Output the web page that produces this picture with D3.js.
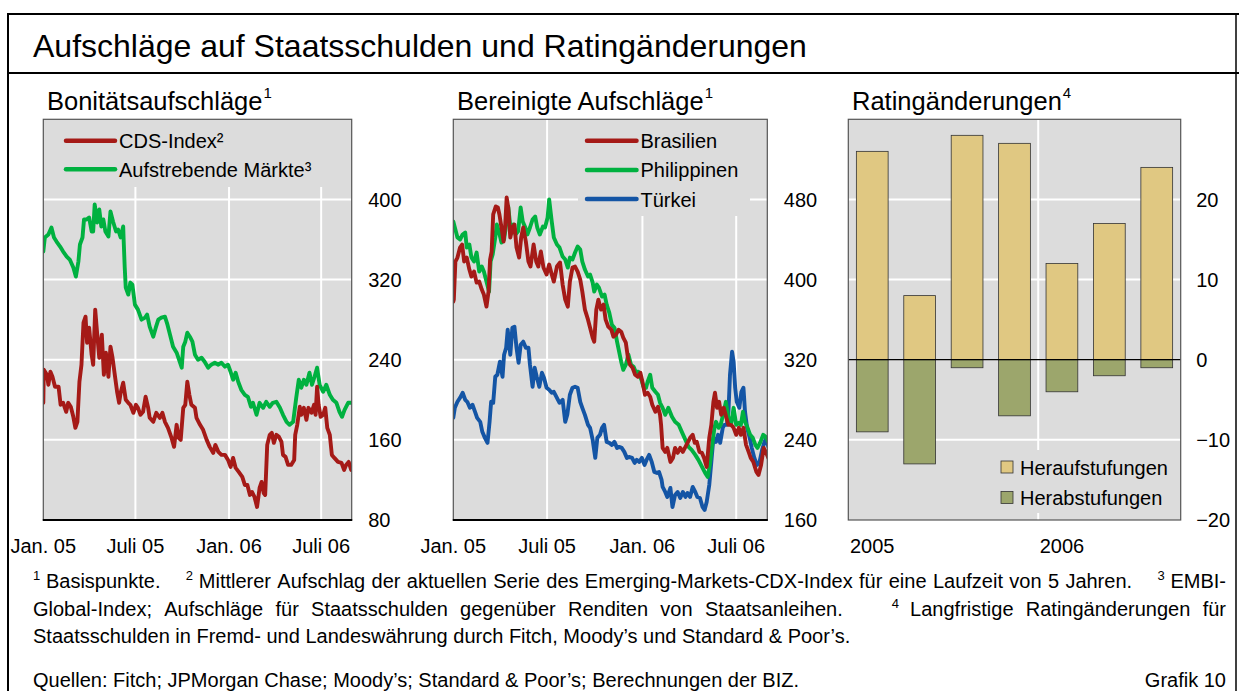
<!DOCTYPE html>
<html><head><meta charset="utf-8">
<script src="https://cdn.jsdelivr.net/npm/d3@7"></script>
<style>
body{margin:0;background:#fff;}
svg{display:block;font-family:"Liberation Sans",Arial,Helvetica,sans-serif;}
</style></head><body>
<svg id="c" width="1239" height="691"></svg>
<script>
// ---------- DATA (x = days since 1 Jan 2005, y = basis points) ----------
const cdsIndex = [[0,197],[1,230],[7,225],[10,215],[14,228],[18,223],[23,213],[30,213],[34,195],[39,197],[45,188],[49,197],[54,193],[59,183],[63,172],[67,178],[71,218],[75,235],[79,277],[83,283],[86,257],[90,272],[95,245],[98,235],[102,290],[106,265],[110,242],[115,265],[119,225],[123,247],[128,223],[132,253],[136,242],[141,223],[145,208],[149,197],[152,207],[157,217],[162,200],[167,197],[171,195],[177,187],[182,195],[186,192],[191,185],[196,188],[201,203],[206,192],[209,182],[216,178],[222,187],[229,182],[234,187],[239,178],[245,172],[252,162],[257,153],[262,175],[266,162],[270,160],[275,192],[279,195],[283,218],[287,205],[291,195],[298,192],[301,182],[308,175],[314,170],[321,160],[327,153],[334,147],[338,155],[344,148],[350,145],[357,145],[363,140],[368,133],[373,142],[378,132],[384,128],[391,123],[396,115],[401,115],[406,105],[410,108],[415,103],[420,93],[425,112],[429,118],[433,107],[436,105],[440,155],[445,165],[449,167],[453,157],[458,165],[463,163],[468,158],[471,145],[476,143],[481,135],[487,135],[493,140],[495,165],[499,175],[504,193],[507,185],[512,192],[517,180],[521,192],[527,187],[532,195],[535,185],[538,213],[541,195],[545,183],[550,185],[554,192],[558,172],[563,165],[567,145],[572,142],[579,138],[586,137],[591,130],[595,135],[600,138],[605,130]];
const emergingMarkets = [[0,348],[3,362],[10,365],[16,372],[21,362],[26,358],[33,353],[39,348],[46,343],[52,340],[59,332],[64,323],[69,338],[72,355],[77,362],[80,380],[85,380],[90,382],[95,368],[98,368],[101,395],[106,377],[110,390],[114,373],[118,380],[122,368],[128,363],[132,388],[137,378],[143,368],[147,370],[152,362],[157,373],[158,358],[160,332],[162,312],[167,305],[171,317],[175,315],[180,295],[186,290],[193,280],[200,282],[204,285],[209,273],[216,263],[221,272],[226,280],[232,282],[239,283],[244,275],[249,265],[255,253],[262,247],[268,238],[272,232],[275,253],[279,258],[283,267],[288,263],[293,258],[298,245],[304,240],[311,242],[317,238],[324,232],[330,235],[337,237],[344,235],[350,237],[357,233],[363,235],[368,228],[373,220],[378,227],[383,218],[389,210],[396,205],[402,203],[408,193],[412,197],[419,185],[425,197],[432,192],[438,198],[445,193],[451,197],[458,198],[465,192],[471,185],[478,178],[484,175],[491,178],[497,202],[502,220],[507,212],[512,220],[517,215],[523,227],[528,215],[533,223],[538,232],[543,215],[550,208],[556,215],[563,205],[569,200],[576,197],[582,188],[587,183],[592,190],[599,197],[605,197]];
const brasilien = [[0,378],[1,380],[4,418],[8,422],[13,432],[17,435],[21,418],[26,422],[31,410],[35,403],[40,408],[45,397],[50,398],[55,390],[59,385],[64,373],[68,388],[71,420],[74,428],[77,465],[82,473],[86,472],[89,465],[93,452],[97,438],[100,453],[103,482],[106,472],[110,442],[114,452],[118,455],[122,432],[127,422],[131,442],[135,452],[140,438],[145,418],[149,413],[155,435],[160,418],[164,413],[169,428],[174,412],[180,405],[185,415],[190,405],[194,398],[200,413],[206,417],[211,395],[216,380],[221,373],[225,398],[230,412],[235,413],[240,408],[245,400],[249,388],[254,370],[260,360],[264,352],[269,342],[272,338],[276,370],[280,380],[285,370],[290,375],[294,360],[299,353],[305,350],[309,343],[314,345],[319,350],[324,348],[328,342],[333,337],[337,322],[341,315],[346,312],[351,305],[356,303],[361,307],[365,298],[370,285],[375,287],[380,283],[384,275],[390,268],[395,273],[399,265],[401,255],[404,232],[409,228],[413,232],[419,218],[424,222],[428,232],[433,227],[438,232],[443,228],[448,233],[452,237],[457,242],[462,245],[466,237],[470,238],[475,228],[480,227],[484,222],[489,213],[494,242],[498,255],[502,278],[505,287],[509,272],[513,278],[517,265],[522,272],[527,262],[531,255],[536,255],[541,252],[546,245],[551,252],[555,245],[560,252],[565,235],[570,228],[574,222],[579,218],[585,208],[589,205],[594,215],[599,232],[604,227],[608,222]];
const philippinen = [[0,458],[3,452],[8,442],[13,440],[18,445],[23,447],[26,432],[31,435],[35,422],[40,418],[45,427],[50,408],[55,413],[59,408],[64,398],[69,388],[72,418],[76,425],[81,442],[84,455],[88,448],[93,437],[98,440],[102,455],[106,473],[111,448],[116,455],[120,445],[125,448],[130,472],[134,458],[139,452],[143,445],[148,452],[153,460],[158,463],[162,452],[167,445],[173,453],[177,452],[182,462],[185,480],[190,458],[194,442],[200,435],[205,432],[211,423],[216,420],[221,412],[225,422],[230,420],[235,427],[240,433],[245,430],[249,418],[254,410],[260,403],[264,405],[269,397],[272,388],[277,395],[281,392],[287,383],[292,385],[296,375],[301,367],[306,355],[311,352],[316,338],[320,328],[324,318],[328,310],[333,315],[338,325],[343,315],[348,313],[352,308],[357,308],[363,300],[367,293],[372,292],[375,298],[380,305],[384,292],[390,288],[395,285],[399,277],[404,272],[409,265],[415,272],[422,263],[428,258],[435,255],[441,248],[448,240],[454,233],[460,230],[467,225],[473,220],[480,213],[486,207],[491,203],[495,215],[499,232],[504,252],[507,258],[512,252],[516,255],[522,268],[526,278],[531,262],[536,255],[541,272],[546,255],[551,257],[555,255],[559,268],[563,258],[568,252],[573,245],[578,242],[583,235],[587,232],[592,237],[598,245],[603,243],[608,238]];
const tuerkei = [[0,262],[3,272],[8,278],[13,282],[18,287],[23,280],[27,278],[32,272],[37,275],[42,268],[46,262],[52,258],[56,248],[61,242],[66,237],[70,258],[73,278],[77,277],[81,303],[85,305],[90,318],[95,303],[98,325],[102,332],[105,350],[110,325],[114,352],[118,353],[122,332],[126,317],[130,335],[135,338],[140,332],[145,332],[148,315],[153,293],[157,312],[161,303],[166,293],[171,307],[175,302],[180,292],[185,290],[190,287],[194,288],[200,282],[205,277],[211,280],[216,258],[220,265],[225,285],[230,292],[235,293],[240,292],[245,278],[249,272],[254,265],[260,255],[264,252],[269,240],[274,222],[278,242],[283,245],[287,252],[291,255],[296,238],[301,237],[306,235],[311,238],[316,232],[320,233],[325,232],[330,228],[335,222],[339,223],[345,222],[350,217],[354,220],[359,218],[364,222],[369,215],[373,220],[378,225],[383,218],[388,208],[393,207],[397,208],[402,200],[404,193],[409,188],[413,183],[419,192],[423,173],[428,185],[433,188],[438,182],[443,188],[448,183],[452,187],[457,183],[462,193],[467,188],[471,183],[476,182],[481,173],[485,170],[489,178],[494,195],[498,218],[502,242],[507,238],[511,245],[515,237],[520,252],[523,255],[528,255],[531,268],[534,305],[538,328],[541,318],[544,292],[547,278],[552,272],[556,288],[560,292],[563,268],[567,252],[572,242],[576,232],[581,222],[586,215],[591,218],[596,230],[600,237],[604,242],[608,233]];

const quarters = ["2005 Q1","2005 Q2","2005 Q3","2005 Q4","2006 Q1","2006 Q2","2006 Q3"];
const upgrades = [26, 8, 28, 27, 12, 17, 24];
const downgrades = [-9, -13, -1, -7, -4, -2, -1];
const yearLabels = {"2005 Q1":"2005","2006 Q1":"2006"};

const timeTickDates = ["2005-01-01","2005-07-01","2006-01-01","2006-07-01"];
const timeTickLabels = ["Jan. 05","Juli 05","Jan. 06","Juli 06"];
const ticks1 = [80,160,240,320,400];
const ticks2 = [160,240,320,400,480];
const ticks3 = [-20,-10,0,10,20];

const title = "Aufschläge auf Staatsschulden und Ratingänderungen";
const footLines = [
  "^1 Basispunkte. ^2 Mittlerer Aufschlag der aktuellen Serie des Emerging-Markets-CDX-Index für eine Laufzeit von 5 Jahren. ^3 EMBI-",
  "Global-Index; Aufschläge für Staatsschulden gegenüber Renditen von Staatsanleihen. ^4 Langfristige Ratingänderungen für",
  "Staatsschulden in Fremd- und Landeswährung durch Fitch, Moody’s und Standard & Poor’s."
];
const sources = "Quellen: Fitch; JPMorgan Chase; Moody’s; Standard & Poor’s; Berechnungen der BIZ.";

// ---------- STYLE ----------
const C = {bg:"#dcdcdc", red:"#a51a17", green:"#00b140", blue:"#1455a5", up:"#e0c882", down:"#9ca66c"};
const svg = d3.select("#c");
const start = new Date(2005,0,1), end = new Date(2006,7,30);
const toDate = d => d3.timeDay.offset(start, d);
const TOP = 119.3, BOT = 520;

// frame
svg.append("line").attr("x1",8).attr("x2",1239).attr("y1",14).attr("y2",14).attr("stroke","#000").attr("stroke-width",2);
svg.append("line").attr("x1",8).attr("x2",1239).attr("y1",73).attr("y2",73).attr("stroke","#000").attr("stroke-width",2);
svg.append("line").attr("x1",8).attr("x2",8).attr("y1",13).attr("y2",691).attr("stroke","#000").attr("stroke-width",2);
svg.append("line").attr("x1",1236).attr("x2",1236).attr("y1",13).attr("y2",691).attr("stroke","#000").attr("stroke-width",1.5);

svg.append("text").attr("x",33).attr("y",57).attr("font-size",32).text(title);

function panelTitle(x, txt, sup){
  const t = svg.append("text").attr("x",x).attr("y",110).attr("font-size",25.5);
  t.append("tspan").text(txt);
  t.append("tspan").attr("font-size",15).attr("dy",-12).attr("dx",1).text(sup);
}
panelTitle(47,"Bonitätsaufschläge","1");
panelTitle(457,"Bereinigte Aufschläge","1");
panelTitle(852,"Ratingänderungen","4");

let clipId = 0;
function linePanel(opt){
  const {L,R,yDom,ticks,series,legend,legendBox} = opt;
  const x = d3.scaleTime().domain([start,end]).range([L,R]);
  const y = d3.scaleLinear().domain(yDom).range([BOT,TOP]);
  const g = svg.append("g");
  g.append("rect").attr("x",L).attr("y",TOP).attr("width",R-L).attr("height",BOT-TOP).attr("fill",C.bg);
  // grid
  g.selectAll(".hg").data(ticks.slice(1)).join("line").attr("x1",L).attr("x2",R)
    .attr("y1",d=>y(d)).attr("y2",d=>y(d)).attr("stroke","#fff").attr("stroke-width",2);
  g.selectAll(".vg").data(timeTickDates.slice(1)).join("line")
    .attr("x1",d=>x(new Date(d+"T00:00"))).attr("x2",d=>x(new Date(d+"T00:00")))
    .attr("y1",TOP).attr("y2",BOT).attr("stroke","#fff").attr("stroke-width",2);
  // legend background
  g.append("rect").attr("x",legendBox[0]).attr("y",TOP).attr("width",legendBox[1]-legendBox[0]).attr("height",legendBox[2]-TOP).attr("fill",C.bg);
  const id = "clip"+(clipId++);
  svg.append("clipPath").attr("id",id).append("rect").attr("x",L).attr("y",TOP).attr("width",R-L).attr("height",BOT-TOP);
  const line = d3.line().x(d=>x(toDate(d[0]))).y(d=>y(d[1])).curve(d3.curveLinear);
  const lg = g.append("g").attr("clip-path",`url(#${id})`);
  series.forEach(s=>{
    lg.append("path").datum(s.data).attr("d",line).attr("fill","none").attr("stroke",s.color)
      .attr("stroke-width",3.9).attr("stroke-linejoin","round").attr("stroke-linecap","round");
  });
  // legend
  legend.items.forEach((it,i)=>{
    const ly = legend.y0 + i*legend.dy;
    g.append("line").attr("x1",legend.x1).attr("x2",legend.x2).attr("y1",ly).attr("y2",ly)
      .attr("stroke",it.color).attr("stroke-width",4.5).attr("stroke-linecap","round");
    g.append("text").attr("x",legend.x2+4).attr("y",ly+7.5).attr("font-size",20).text(it.label);
  });
  // border
  g.append("rect").attr("x",L).attr("y",TOP).attr("width",R-L).attr("height",BOT-TOP).attr("fill","none").attr("stroke","#555").attr("stroke-width",1.2);
  g.append("line").attr("x1",L-0.5).attr("x2",R+0.5).attr("y1",BOT).attr("y2",BOT).attr("stroke","#000").attr("stroke-width",2);
  // y labels
  g.selectAll(".yl").data(ticks).join("text").attr("x",R+16.5).attr("y",d=>y(d)).attr("dy","0.36em")
    .attr("font-size",20).text(d=>d);
  // x labels
  g.selectAll(".xl").data(timeTickDates).join("text").attr("x",d=>x(new Date(d+"T00:00"))).attr("y",553)
    .attr("text-anchor","middle").attr("font-size",20).text((d,i)=>timeTickLabels[i]);
}

linePanel({L:43.3,R:351.7,yDom:[80,480],ticks:ticks1,
  series:[{data:emergingMarkets,color:C.green},{data:cdsIndex,color:C.red}],
  legend:{x1:66,x2:115,y0:140.7,dy:28.6,items:[{label:"CDS-Index²",color:C.red},{label:"Aufstrebende Märkte³",color:C.green}]},
  legendBox:[43.3,351.7,187]});
linePanel({L:453.3,R:767.3,yDom:[160,560],ticks:ticks2,
  series:[{data:tuerkei,color:C.blue},{data:philippinen,color:C.green},{data:brasilien,color:C.red}],
  legend:{x1:587,x2:636.5,y0:140.7,dy:29.2,items:[{label:"Brasilien",color:C.red},{label:"Philippinen",color:C.green},{label:"Türkei",color:C.blue}]},
  legendBox:[578,750,216]});

// ---------- Panel 3: bars ----------
(function(){
  const L=848.3, R=1180.7;
  const x = d3.scaleBand().domain(quarters).range([L,R]).paddingInner(0.33).paddingOuter(0.17);
  const y = d3.scaleLinear().domain([-20,30]).range([BOT,TOP]);
  const g = svg.append("g");
  g.append("rect").attr("x",L).attr("y",TOP).attr("width",R-L).attr("height",BOT-TOP).attr("fill",C.bg);
  g.selectAll(".hg").data(ticks3.filter(d=>d!==0 && d!==-20)).join("line").attr("x1",L).attr("x2",R)
    .attr("y1",d=>y(d)).attr("y2",d=>y(d)).attr("stroke","#fff").attr("stroke-width",2);
  const gx = (x("2005 Q4")+x.bandwidth()+x("2006 Q1"))/2;
  g.append("line").attr("x1",gx).attr("x2",gx).attr("y1",TOP).attr("y2",BOT).attr("stroke","#fff").attr("stroke-width",2);
  g.selectAll(".up").data(quarters).join("rect").attr("x",d=>x(d)).attr("width",x.bandwidth())
    .attr("y",(d,i)=>y(upgrades[i])).attr("height",(d,i)=>y(0)-y(upgrades[i]))
    .attr("fill",C.up).attr("stroke","#333").attr("stroke-width",0.8);
  g.selectAll(".dn").data(quarters).join("rect").attr("x",d=>x(d)).attr("width",x.bandwidth())
    .attr("y",y(0)).attr("height",(d,i)=>y(downgrades[i])-y(0))
    .attr("fill",C.down).attr("stroke","#333").attr("stroke-width",0.8);
  g.append("line").attr("x1",L).attr("x2",R).attr("y1",y(0)).attr("y2",y(0)).attr("stroke","#000").attr("stroke-width",1.2);
  // legend
  g.append("rect").attr("x",993).attr("y",450).attr("width",R-993).attr("height",63).attr("fill",C.bg);
  [["Heraufstufungen",C.up],["Herabstufungen",C.down]].forEach((it,i)=>{
    const yy = 461 + i*30.5;
    g.append("rect").attr("x",1001).attr("y",yy).attr("width",12).attr("height",12).attr("fill",it[1]).attr("stroke","#333").attr("stroke-width",0.8);
    g.append("text").attr("x",1020).attr("y",yy+13.5).attr("font-size",20).text(it[0]);
  });
  g.append("rect").attr("x",L).attr("y",TOP).attr("width",R-L).attr("height",BOT-TOP).attr("fill","none").attr("stroke","#555").attr("stroke-width",1.2);
  g.selectAll(".yl").data(ticks3).join("text").attr("x",R+15.5).attr("y",d=>y(d)).attr("dy","0.36em")
    .attr("font-size",20).text(d=>d<0?"−"+Math.abs(d):d);
  g.selectAll(".xl").data(quarters.filter(q=>yearLabels[q])).join("text")
    .attr("x",d=>x(d)+x.bandwidth()/2).attr("y",553).attr("text-anchor","middle").attr("font-size",20).text(d=>yearLabels[d]);
})();

// ---------- Footnotes ----------
function footLine(str, y, justify, fs){
  const toks = str.split(" ").map(t => t.startsWith("^") ? {t:t.slice(1), sup:true} : {t, sup:false});
  const g = svg.append("g");
  toks.forEach(k=>{
    k.el = g.append("text").attr("y", k.sup ? y-8 : y).attr("font-size", k.sup?13:fs).text(k.t);
    k.w = k.el.node().getComputedTextLength();
  });
  const weights = toks.slice(1).map((k,i)=> k.sup ? 4 : (toks[i].sup ? 0.9 : 1));
  const sumW = d3.sum(toks,k=>k.w), sumG = d3.sum(weights);
  const unit = justify ? Math.max(2,(1226-33-sumW)/sumG) : fs*0.278;
  let xx = 33;
  toks.forEach((k,i)=>{ if(i>0) xx += weights[i-1]*unit; k.el.attr("x",xx); xx += k.w; });
}
footLine(footLines[0], 588, true, 20);
footLine(footLines[1], 615.5, true, 20);
footLine(footLines[2], 643, false, 20);
svg.append("text").attr("x",33).attr("y",687).attr("font-size",20).text(sources);
svg.append("text").attr("x",1226).attr("y",687).attr("font-size",20).attr("text-anchor","end").text("Grafik 10");
</script>
</body></html>
